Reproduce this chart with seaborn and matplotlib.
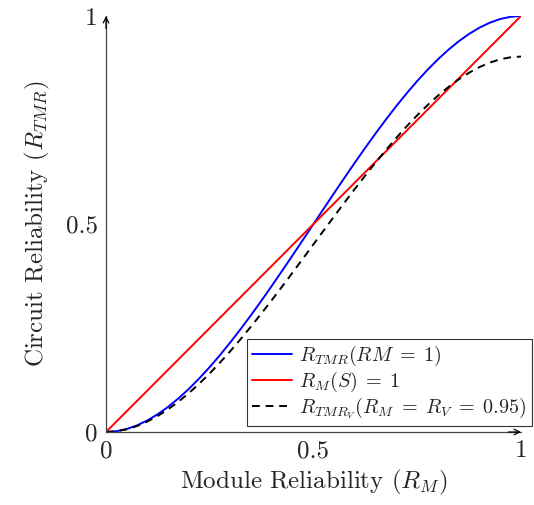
import matplotlib
matplotlib.use("Agg")
import matplotlib.pyplot as plt
import seaborn as sns
import pandas as pd
from matplotlib.lines import Line2D

module_rel = [0.0, 0.025, 0.05, 0.075, 0.1, 0.125, 0.15, 0.175, 0.2, 0.225, 0.25,
              0.275, 0.3, 0.325, 0.35, 0.375, 0.4, 0.425, 0.45, 0.475, 0.5,
              0.525, 0.55, 0.575, 0.6, 0.625, 0.65, 0.675, 0.7, 0.725, 0.75,
              0.775, 0.8, 0.825, 0.85, 0.875, 0.9, 0.925, 0.95, 0.975, 1.0]
tmr_rel = [0.0, 0.00184, 0.00725, 0.01603, 0.028, 0.04297, 0.06075, 0.08116, 0.104, 0.12909, 0.15625,
           0.18528, 0.216, 0.24822, 0.28175, 0.31641, 0.352, 0.38834, 0.42525, 0.46253, 0.5,
           0.53747, 0.57475, 0.61166, 0.648, 0.68359, 0.71825, 0.75178, 0.784, 0.81472, 0.84375,
           0.87091, 0.896, 0.91884, 0.93925, 0.95703, 0.972, 0.98397, 0.99275, 0.99816, 1.0]
simplex_rel = [0.0, 0.025, 0.05, 0.075, 0.1, 0.125, 0.15, 0.175, 0.2, 0.225, 0.25,
               0.275, 0.3, 0.325, 0.35, 0.375, 0.4, 0.425, 0.45, 0.475, 0.5,
               0.525, 0.55, 0.575, 0.6, 0.625, 0.65, 0.675, 0.7, 0.725, 0.75,
               0.775, 0.8, 0.825, 0.85, 0.875, 0.9, 0.925, 0.95, 0.975, 1.0]
tmr_voter_rel = [0.0, 0.00166, 0.00654, 0.01447, 0.02527, 0.03878, 0.05483, 0.07325, 0.09386, 0.1165, 0.14102,
                 0.16722, 0.19494, 0.22402, 0.25428, 0.28556, 0.31768, 0.35048, 0.38379, 0.41743, 0.45125,
                 0.48507, 0.51871, 0.55202, 0.58482, 0.61694, 0.64822, 0.67848, 0.70756, 0.73528, 0.76148,
                 0.786, 0.80864, 0.82925, 0.84767, 0.86372, 0.87723, 0.88803, 0.89596, 0.90084, 0.9025]
series_labels = [r"$R_{TMR}(RM\;=\;1)$", r"$R_M(S)\;=\;1$", r"$R_{TMR_V}(R_M\;=\;R_V\;=\;0.95)$"]
x_ticks = [0, 0.5, 1]
y_ticks = [0, 0.5, 1]
x_tick_labels = ["0", "0.5", "1"]
y_tick_labels = ["0", "0.5", "1"]

sns.set_style("white")
plt.rcParams["font.family"] = ["cmr10", "DejaVu Serif"]
plt.rcParams["mathtext.fontset"] = "cm"
plt.rcParams["axes.formatter.use_mathtext"] = True

df = pd.concat([
    pd.DataFrame({"x": module_rel, "y": tmr_rel, "s": series_labels[0]}),
    pd.DataFrame({"x": module_rel, "y": simplex_rel, "s": series_labels[1]}),
    pd.DataFrame({"x": module_rel, "y": tmr_voter_rel, "s": series_labels[2]}),
])

fig = plt.figure(figsize=(5.34, 5.05), dpi=100)
ax = fig.add_axes([106/534, 73/505, 415/534, 416/505])

sns.lineplot(data=df, x="x", y="y", hue="s", style="s",
             palette=["#0000ff", "#ff0000", "black"],
             dashes=["", "", (4, 3)],
             lw=1.4, ax=ax, legend=False)

ax.set_xlim(0, 1)
ax.set_ylim(0, 1)
ax.set_xticks(x_ticks)
ax.set_xticklabels(x_tick_labels)
ax.set_yticks(y_ticks)
ax.set_yticklabels(y_tick_labels)
ax.tick_params(direction="inout", length=6, width=0.8, color="#888888",
               labelsize=18, pad=3)
ax.set_xlabel(r"Module Reliability ($R_M$)", fontsize=18, labelpad=4)
ax.set_ylabel(r"Circuit Reliability ($R_{TMR}$)", fontsize=18, labelpad=10)

for side in ["top", "right"]:
    ax.spines[side].set_visible(False)
for side in ["left", "bottom"]:
    ax.spines[side].set_color("#444444")
    ax.spines[side].set_linewidth(0.9)

ax.annotate("", xy=(1.0, 0), xytext=(0.97, 0), xycoords="axes fraction",
            arrowprops=dict(arrowstyle="->", color="black", lw=0.9, shrinkA=0, shrinkB=0),
            annotation_clip=False)
ax.annotate("", xy=(0, 1.0), xytext=(0, 0.97), xycoords="axes fraction",
            arrowprops=dict(arrowstyle="->", color="black", lw=0.9, shrinkA=0, shrinkB=0),
            annotation_clip=False)

handles = [Line2D([], [], color="#0000ff", lw=1.4),
           Line2D([], [], color="#ff0000", lw=1.4),
           Line2D([], [], color="black", lw=1.4, dashes=(4, 3))]
leg = fig.legend(handles, series_labels, loc="upper left",
                 bbox_to_anchor=(247/534, 1 - 339/505), fontsize=14.5,
                 frameon=True, fancybox=False, edgecolor="black",
                 handlelength=2.0, handletextpad=0.35, borderpad=0.25,
                 labelspacing=0.08, borderaxespad=0)
leg.get_frame().set_linewidth(0.8)

fig.savefig("out.png", dpi=100)
